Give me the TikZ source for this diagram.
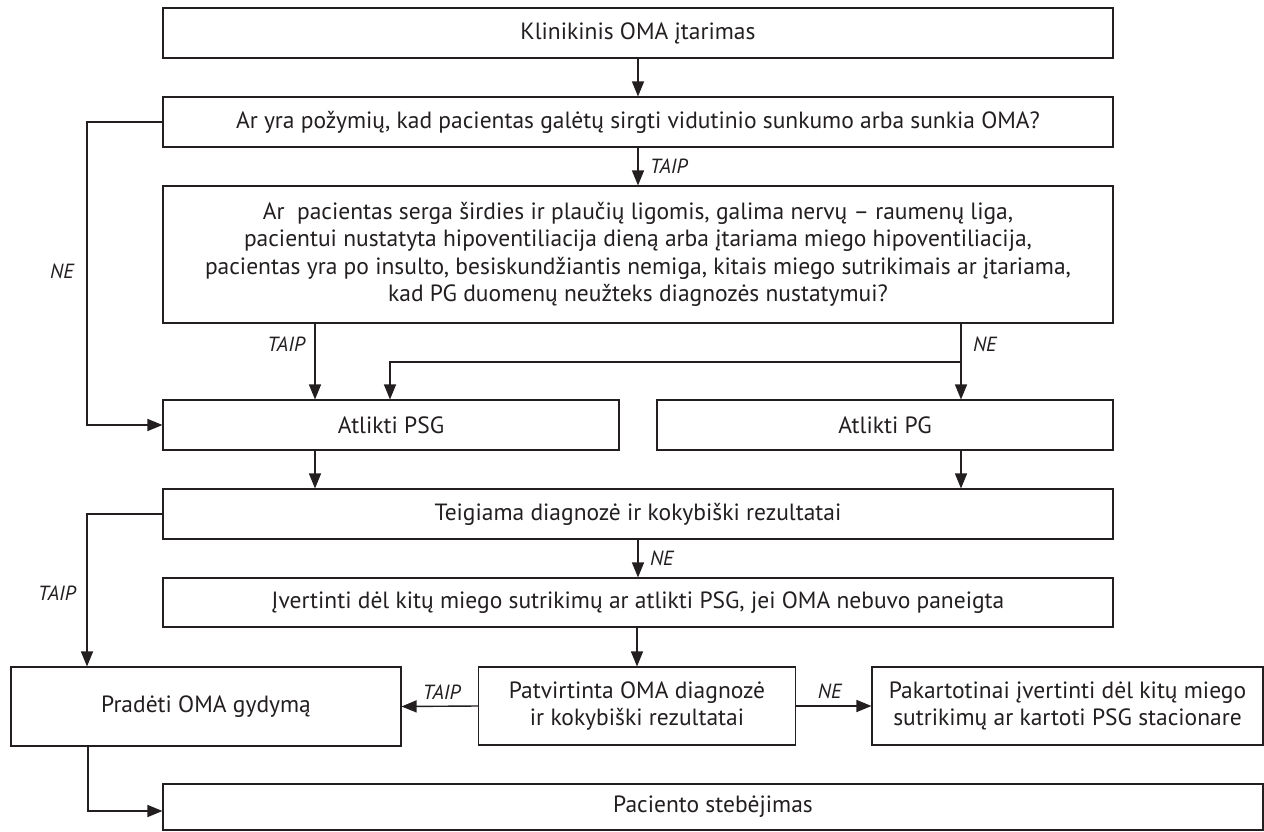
\documentclass[tikz,border=0pt]{standalone}
\usepackage{fontspec}
\setmainfont{PT Sans}
\usetikzlibrary{arrows.meta}
\definecolor{ink}{HTML}{231F20}
\begin{document}
\begin{tikzpicture}[x=1pt,y=-1pt,
  box/.style={draw=ink,line width=1.1pt,fill=white,inner sep=2pt,align=center,font=\fontsize{23.5}{27.5}\selectfont,text=ink},
  arr/.style={draw=ink,line width=1.4pt,-{Triangle[length=15pt,width=12pt]}},
  lab/.style={font=\fontsize{20.5}{24}\selectfont\itshape,text=ink}]
\useasboundingbox (0,0) rectangle (1264,832);
\node[box,minimum width=950pt,minimum height=50pt] (b1) at (638,33) {Klinikinis OMA įtarimas};
\node[box,minimum width=950pt,minimum height=50pt] (b2) at (638,122) {Ar yra požymių, kad pacientas galėtų sirgti vidutinio sunkumo arba sunkia OMA?};
\node[box,minimum width=950pt,minimum height=137pt] (b3) at (638,254.5) {Ar\ \ pacientas serga širdies ir plaučių ligomis, galima nervų – raumenų liga,\\pacientui nustatyta hipoventiliacija dieną arba įtariama miego hipoventiliacija,\\pacientas yra po insulto, besiskundžiantis nemiga, kitais miego sutrikimais ar įtariama,\\kad PG duomenų neužteks diagnozės nustatymui?};
\node[box,minimum width=456pt,minimum height=50pt] (psg) at (391,425) {Atlikti PSG};
\node[box,minimum width=456pt,minimum height=50pt] (pg) at (885,425) {Atlikti PG};
\node[box,minimum width=950pt,minimum height=50pt] (teig) at (638,514) {Teigiama diagnozė ir kokybiški rezultatai};
\node[box,minimum width=950pt,minimum height=49pt] (ivert) at (638,602.5) {Įvertinti dėl kitų miego sutrikimų ar atlikti PSG, jei OMA nebuvo paneigta};
\node[box,minimum width=390pt,minimum height=79pt] (prad) at (206,706.5) {Pradėti OMA gydymą};
\node[box,minimum width=317pt,minimum height=78pt] (patv) at (637,706) {Patvirtinta OMA diagnozė\\ir kokybiški rezultatai};
\node[box,minimum width=391pt,minimum height=78pt] (pak) at (1067.5,706) {Pakartotinai įvertinti dėl kitų miego\\sutrikimų ar kartoti PSG stacionare};
\node[box,minimum width=1100pt,minimum height=46pt] (pac) at (713,807) {Paciento stebėjimas};
\coordinate (xL) at (315,0);
\coordinate (xR) at (961,0);
\coordinate (xM) at (390,0);
\coordinate (xC) at (637,0);
\coordinate (yB) at (0,362);
\coordinate (xF) at (87,0);
\coordinate (xG) at (88,0);
\coordinate (yP) at (0,811);
% connectors
\draw[arr] (b1) -- (b2);
\draw[arr] (b2) -- node[lab,right,pos=0.5,xshift=8pt] {TAIP} (b3);
\draw[arr] (b2.west) -- (b2.west -| xF) |- (psg.west);
\node[lab] (ne1) at (62,271) {NE};
\draw[arr] (b3.south -| xL) -- node[lab,left,pos=0.27,xshift=-6pt] {TAIP} (psg.north -| xL);
\draw[arr] (b3.south -| xR) -- node[lab,right,pos=0.27,xshift=8pt] {NE} (pg.north -| xR);
\draw[arr] (xR |- yB) -- (xM |- yB) -- (psg.north -| xM);
\draw[arr] (psg.south -| xL) -- (teig.north -| xL);
\draw[arr] (pg.south -| xR) -- (teig.north -| xR);
\draw[arr] (teig.west) -- (teig.west -| xF) -- (prad.north -| xF);
\node[lab] (taip2) at (57,593) {TAIP};
\draw[arr] (teig) -- node[lab,right,pos=0.5,xshift=8pt] {NE} (ivert);
\draw[arr] (ivert.south -| xC) -- (patv.north -| xC);
\draw[arr] (patv.west) -- node[lab,above,xshift=2pt,yshift=3pt] {TAIP} (prad.east);
\draw[arr] (patv.east) -- node[lab,above,xshift=-4pt,yshift=3pt] {NE} (pak.west);
\draw[arr] (prad.south -| xG) -- (xG |- yP) -- (pac.west |- yP);
\end{tikzpicture}
\end{document}
